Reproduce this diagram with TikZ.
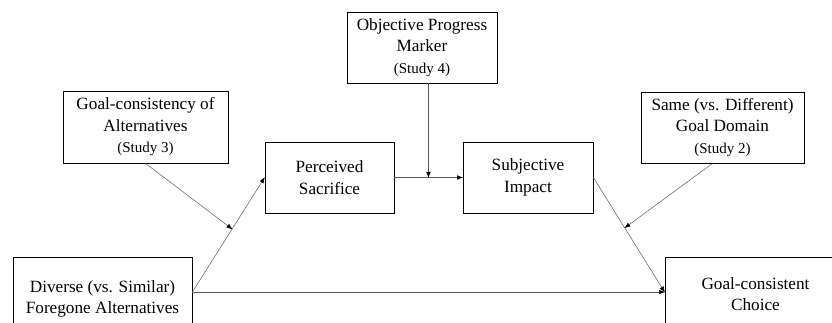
\documentclass[tikz,border=0pt]{standalone}
\usepackage{fontspec}
\setmainfont{Liberation Serif}
\usetikzlibrary{calc,arrows.meta}
\newcommand{\studytag}[1]{{\fontsize{15}{21.5}\selectfont (Study #1)}}
\tikzset{
  box/.style={draw=black, line width=0.8pt, align=center, inner sep=0pt,
    font=\rmfamily\fontsize{17.2}{21.5}\selectfont},
  link/.style={draw=black!65, line width=0.5pt, -{Latex[length=6pt,width=4.5pt,color=black]}, shorten >=-0.5pt}
}
\begin{document}
\begin{tikzpicture}[x=1pt, y=1pt]
			%%%%% START %%%%%
			\clip (0, 0) rectangle (832, 323);
			
			\node[box, minimum width=165, minimum height=72] (gc) at (145.5, 196) {Goal-consistency of\\Alternatives\\\studytag{3}};
			\node[box, minimum width=150, minimum height=71] (opm) at (422, 275.5) {Objective Progress\\Marker\\\studytag{4}};
			\node[box, minimum width=163, minimum height=71] (same) at (722.5, 195.5) {Same (vs. Different)\\Goal Domain\\\studytag{2}};
			
			\node[box, minimum width=129, minimum height=71] (ps) at (329.5, 145.5) {Perceived\\Sacrifice};
			\node[box, minimum width=130, minimum height=71] (si) at (528, 145.5) {Subjective\\Impact};
			
			\node[box, minimum width=179, minimum height=84] (div) at (102.5, 24) {Diverse (vs. Similar)\\Foregone Alternatives};
			\node[box, minimum width=181, minimum height=74] (gcc) at (755.5, 29) {Goal-consistent\\Choice};
			
			%%%%% PATHS %%%%%
			\coordinate (dv) at ([yshift=7pt]div.east);
			\coordinate (gv) at ([yshift=2pt]gcc.west);
			
			\draw[link] (dv) -- (ps.west);
			\draw[link] (ps.east) -- (si.west);
			\draw[link] (si.east) -- (gv);
			\draw[link] (dv) -- (gv);
			
			\coordinate (m1) at ($(dv)!0.55!(ps.west)$);
			\coordinate (m2) at ($(ps.east)!0.5!(si.west)$);
			\coordinate (m3) at ($(si.east)!0.44!(gv)$);
			
			\draw[link] (gc.south) -- (m1);
			\draw[link] (opm.south -| m2) -- (m2);
			\draw[link] ([xshift=-10pt]same.south) -- (m3);
			%%%%% END %%%%%
\end{tikzpicture}
\end{document}
